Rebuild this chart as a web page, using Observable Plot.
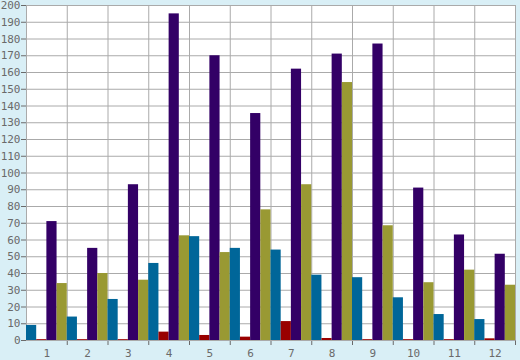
<!DOCTYPE html>
<html>
<head>
<meta charset="utf-8">
<script src="https://cdn.jsdelivr.net/npm/d3@7"></script>
<script src="https://cdn.jsdelivr.net/npm/@observablehq/plot@0.6"></script>
<style>
  html, body { margin: 0; padding: 0; background: #d9eff6; }
  #chart svg { display: block; }
</style>
</head>
<body>
<div id="chart"></div>
<script>
const months = [1, 2, 3, 4, 5, 6, 7, 8, 9, 10, 11, 12];
const seriesNames = ["A", "B", "C", "D"];
const seriesA = [9, 14, 24.5, 46, 62, 55, 54, 39, 37.5, 25.5, 15.5, 12.5];
const seriesB = [0.5, 0.5, 0.5, 5, 3, 2, 11.3, 1.2, 0.5, 0.5, 0.5, 1];
const seriesC = [71, 55, 93, 195, 170, 135.5, 162, 171, 177, 91, 63, 51.5];
const seriesD = [34, 40, 36, 62.5, 52.5, 78, 93, 154, 68.5, 34.5, 42, 33];
const colors = ["#006699", "#990000", "#330066", "#999933"];
const yTicks = d3.range(0, 201, 10);

const allSeries = [seriesA, seriesB, seriesC, seriesD];
const rows = [];
months.forEach((m, i) => {
  allSeries.forEach((s, k) => {
    rows.push({month: m, k, series: seriesNames[k], value: s[i]});
  });
});
const n = seriesNames.length;
const boundaries = months.map(m => m - 0.5).concat([months[months.length - 1] + 0.5]);

const chart = Plot.plot({
  width: 520,
  height: 360,
  marginLeft: 26,
  marginRight: 5,
  marginTop: 5,
  marginBottom: 20,
  style: {background: "#d9eff6", fontFamily: "'DejaVu Sans Mono', monospace", fontSize: "11px", color: "#6a6a6a"},
  x: {domain: [boundaries[0], boundaries[boundaries.length - 1]], ticks: boundaries.slice(1), tickFormat: () => "", tickSize: 5, label: null},
  y: {domain: [0, 200], ticks: yTicks, tickSize: 5, tickPadding: 1, label: null},
  color: {domain: seriesNames, range: colors},
  marks: [
    Plot.frame({fill: "white", stroke: "none"}),
    Plot.ruleY(yTicks, {stroke: "#aaa", strokeWidth: 1}),
    Plot.ruleX(boundaries, {stroke: "#aaa", strokeWidth: 1}),
    Plot.rectY(rows, {
      x1: d => d.month - 0.5 + d.k / n,
      x2: d => d.month - 0.5 + (d.k + 1) / n,
      y1: 0,
      y2: "value",
      fill: "series",
      inset: 0
    }),
    Plot.text(months, {x: d => d, y: 0, text: d => String(d), dy: 13, fill: "#6a6a6a", fontSize: 11})
  ]
});
document.getElementById("chart").appendChild(chart);
</script>
</body>
</html>
